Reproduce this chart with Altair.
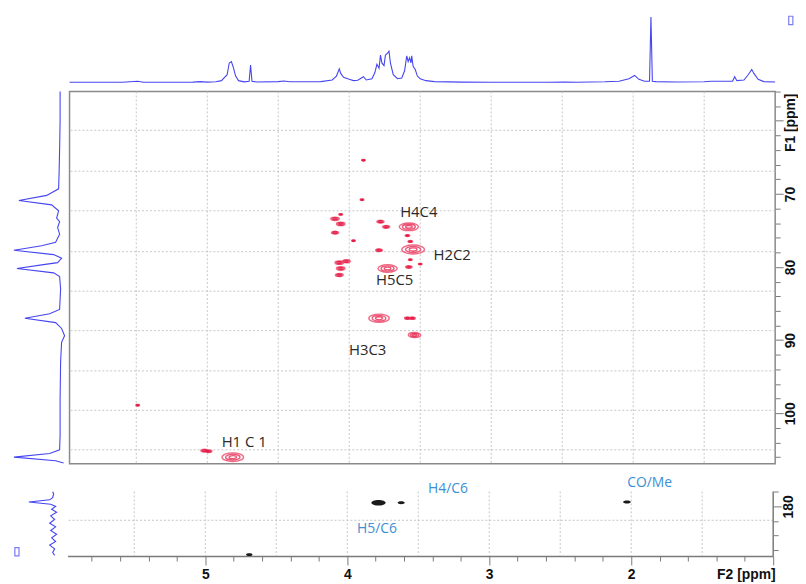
import altair as alt
import pandas as pd

# ---------------- data ----------------
F2_DOMAIN = [1.0, 5.97]          # ppm, drawn high -> low
F1_MAIN = [56.0, 106.9]          # ppm, increasing downward
F1_LOW_VIEW = [174.57, 186.79]   # strip view (upper part is the gap)
F1_LOW_AXIS = [177.96, 186.79]   # strip axis extent

# 1H trace (top projection): vertices (ppm, relative intensity)
h_ppm = [5.97, 5.60, 5.49, 5.45, 5.10, 5.05, 5.00, 4.94, 4.90, 4.86, 4.845, 4.83, 4.815, 4.80,
         4.78, 4.74, 4.705, 4.695, 4.685, 4.65, 4.50, 4.46, 4.42, 4.20, 4.12, 4.09, 4.07, 4.06,
         4.04, 4.00, 3.97, 3.94, 3.90, 3.88, 3.84, 3.82, 3.805, 3.79, 3.78, 3.77, 3.755, 3.745,
         3.73, 3.72, 3.71, 3.69, 3.66, 3.63, 3.61, 3.595, 3.585, 3.575, 3.565, 3.56, 3.55, 3.535,
         3.52, 3.50, 3.46, 3.40, 3.20, 3.00, 2.60, 2.48, 2.40, 2.20, 2.10, 2.03, 1.99, 1.96, 1.92,
         1.885, 1.875, 1.865, 1.84, 1.70, 1.50, 1.45, 1.30, 1.285, 1.27, 1.22, 1.19, 1.165, 1.15,
         1.12, 1.08, 1.00]
h_int = [0.6, 0.6, 2.0, 0.6, 0.8, 1.5, 0.8, 1.2, 3.0, 12, 30, 32, 22, 10,
         3, 1.2, 2, 27, 2, 1.0, 1.5, 2.5, 1.2, 1.5, 4, 10, 21, 14,
         8, 5, 3, 3.5, 9, 4, 6, 15, 28, 22, 42, 30, 26, 42,
         45, 48, 30, 12, 6, 7, 18, 41, 32, 38, 30, 41, 25, 20,
         10, 6, 3, 1.5, 0.8, 0.6, 0.6, 1.0, 0.6, 1.2, 2.0, 6, 11, 5, 2,
         2, 100, 2, 1.5, 1.0, 1.2, 2.0, 2, 9, 3, 4, 12, 20, 14,
         5, 1.5, 1.0]

# 13C trace (left projection of the main panel)
c_ppm = [56.0, 60, 64, 67, 69.3, 70.2, 70.9, 71.5, 72.3, 73.3, 73.8, 74.6, 75.5, 76.6, 77.1,
         77.7, 78.3, 78.8, 79.4, 79.7, 80.2, 80.8, 81.3, 83, 85.8, 86.4, 87.0, 87.6, 88.4, 89.4,
         90.3, 93, 98, 103, 105.0, 105.5, 106.0, 106.5, 106.8]
c_int = [1.5, 1.5, 2.0, 2.5, 3, 15, 43, 10, 3, 5, 2, 4, 2, 6, 20,
         48, 8, 0, 4, 20, 45, 8, 2, 1, 2, 12, 37, 6, 0, -3,
         0, 1, 1.5, 1.5, 2, 12, 48, 6, -2]

# carbonyl-region trace (left of the lower strip)
co_ppm = [178.0, 178.3, 178.8, 179.1, 179.4, 179.7, 180.0, 180.4, 180.8, 181.3, 181.8,
          182.3, 182.8, 183.3, 183.8, 184.3, 184.8, 185.3, 185.8, 186.3, 186.7]
co_int = [9, 8, 9, 12, 33, 11, 6, 10, 5, 11, 7, 12, 6, 11, 5, 10, 6, 12, 7, 9, 7]

# cross peaks of the main panel: F2 (1H), F1 (13C), relative intensity
pk_f2 = [3.90, 3.91, 4.10, 4.06, 4.10, 4.06, 3.78, 3.74, 3.58, 3.59, 3.57, 3.97, 3.79, 3.55,
         4.07, 4.02, 4.06, 4.07, 3.73, 3.58, 3.57, 3.50, 3.79, 3.59, 3.555, 3.54, 5.02, 4.99,
         4.82, 5.49]
pk_f1 = [65.4, 70.8, 73.4, 74.1, 75.3, 72.8, 73.8, 74.5, 74.5, 75.7, 76.5, 76.4, 77.7, 77.6,
         79.4, 79.2, 80.2, 81.1, 80.2, 80.0, 79.0, 79.6, 87.0, 87.0, 87.0, 89.3, 105.1, 105.2,
         106.0, 98.9]
pk_amp = [3, 3, 14, 14, 10, 3, 10, 10, 72, 4, 4, 3, 9, 100,
          14, 12, 14, 12, 72, 8, 3, 3, 81, 7, 7, 30, 10, 8,
          90, 3]

# cross peaks of the lower strip
lo_f2 = [3.78, 3.62, 2.03, 4.69]
lo_f1 = [179.5, 179.5, 179.4, 186.6]
lo_amp = [40, 10, 12, 8]

# annotations
lab_text = ["H4C4", "H2C2", "H5C5", "H3C3", "H1 C 1"]
lab_f2 = [3.51, 3.275, 3.68, 3.87, 4.74]
lab_f1 = [72.5, 78.3, 81.8, 91.3, 104.0]

lo_lab_text = ["H4/C6", "CO/Me", "H5/C6"]
lo_lab_f2 = [3.29, 1.87, 3.79]
lo_lab_f1 = [177.6, 176.8, 183.1]

# grid lines and tick values
grid_f2 = [5.5, 5.0, 4.5, 4.0, 3.5, 3.0, 2.5, 2.0, 1.5]
grid_f1_main = [61.3, 66.9, 72.3, 77.9, 83.3, 88.7, 94.2, 99.6, 105.0]
grid_f1_low = [181.9]
ticks_f2 = [5.8, 5.6, 5.4, 5.2, 5.0, 4.8, 4.6, 4.4, 4.2, 4.0, 3.8, 3.6, 3.4, 3.2, 3.0,
            2.8, 2.6, 2.4, 2.2, 2.0, 1.8, 1.6, 1.4, 1.2, 1.0]
ticks_f1_main = [56, 58, 60, 62, 64, 66, 68, 70, 72, 74, 76, 78, 80, 82, 84, 86, 88, 90,
                 92, 94, 96, 98, 100, 102, 104, 106]
ticks_f1_low = [178, 180, 182, 184, 186]

# icon anchors (TopSpin window markers)
icon_top = pd.DataFrame({"f2": [0.89], "i": [95]})
icon_low = pd.DataFrame({"v": [45], "f1": [186.2]})

# ---------------- styling ----------------
W, H_TOP, H_MAIN, H_LOW, LW = 711, 77, 375, 90, 57
BLUE = "#4646f0"
RED = "#e3123f"
PINK = "#f05a78"
GRID = "#c6c6c6"
AXC = "#7a7a7a"
ELLIPSE = "M-1,0A1,0.4,0,1,1,1,0A1,0.4,0,1,1,-1,0Z"
ICON = "M-0.5,-1L0.5,-1L0.5,1L-0.5,1Z"
LABFONT = "Liberation Sans"

xs = alt.Scale(domain=F2_DOMAIN, reverse=True, nice=False, zero=False)
ys_main = alt.Scale(domain=F1_MAIN, reverse=True, nice=False, zero=False)
ys_low = alt.Scale(domain=F1_LOW_VIEW, reverse=True, nice=False, zero=False)
proj_x = alt.Scale(domain=[-4, 53], reverse=True, nice=False, zero=False)
size_sc = alt.Scale(domain=[0, 100], range=[0, 520])
yi = alt.Scale(domain=[-7.6, 109.1], nice=False, zero=False)

df_h = pd.DataFrame({"f2": h_ppm, "i": h_int})
df_c = pd.DataFrame({"f1": c_ppm, "v": c_int})
df_co = pd.DataFrame({"f1": co_ppm, "v": co_int})
df_pk = pd.DataFrame({"f2": pk_f2, "f1": pk_f1, "amp": pk_amp})
df_lo = pd.DataFrame({"f2": lo_f2, "f1": lo_f1, "amp": lo_amp})
df_lab = pd.DataFrame({"f2": lab_f2, "f1": lab_f1, "t": lab_text})
df_lolab = pd.DataFrame({"f2": lo_lab_f2, "f1": lo_lab_f1, "t": lo_lab_text})
df_lgv = pd.DataFrame({"f2": grid_f2, "a": F1_LOW_AXIS[0], "b": F1_LOW_AXIS[1]})
df_lax = pd.DataFrame({"f2": [F2_DOMAIN[0]], "a": [F1_LOW_AXIS[0]], "b": [F1_LOW_AXIS[1]]})

noview = alt.ViewBackground(stroke="transparent")

# ---------------- row 1: 1H trace ----------------
blank = alt.Chart(pd.DataFrame({"a": [0.5]})).mark_point(opacity=0, size=1).encode(
    x=alt.X("a:Q", axis=None, scale=alt.Scale(domain=[0, 1])),
    y=alt.Y("a:Q", axis=None, scale=alt.Scale(domain=[0, 1])),
).properties(width=LW, height=H_TOP, view=noview)

top_line = alt.Chart(df_h).mark_line(color=BLUE, strokeWidth=1.1).encode(
    x=alt.X("f2:Q", scale=xs, axis=None),
    y=alt.Y("i:Q", scale=yi, axis=None),
    order=alt.Order("f2:Q"),
)
top_icon = alt.Chart(icon_top).mark_point(shape=ICON, size=70, filled=False, color=BLUE,
                                          strokeWidth=1.2).encode(
    x=alt.X("f2:Q", scale=xs, axis=None), y=alt.Y("i:Q", scale=yi, axis=None))
top = alt.layer(top_line, top_icon).properties(width=W, height=H_TOP, view=noview)

# ---------------- row 2: 13C projection + main panel ----------------
cproj = alt.Chart(df_c).mark_line(color=BLUE, strokeWidth=1.1).encode(
    x=alt.X("v:Q", scale=proj_x, axis=None),
    y=alt.Y("f1:Q", scale=ys_main, axis=None),
    order=alt.Order("f1:Q"),
).properties(width=LW, height=H_MAIN, view=noview)

yaxis_main = alt.Axis(
    orient="right", values=ticks_f1_main, domain=False, grid=False,
    tickColor=AXC, tickWidth=1,
    tickSize={"condition": {"test": "datum.value % 10 === 0", "value": 8}, "value": 5},
    labelExpr="datum.value % 10 === 0 && datum.value >= 70 ? datum.label : ''",
    labelAngle=270, labelAlign="center", labelBaseline="top", labelPadding=0,
    labelFont=LABFONT, labelFontWeight="bold", labelFontSize=14, labelColor="#111",
    title="F1 [ppm]", titleAngle=270, titleAlign="center", titleBaseline="top",
    titleX=8, titleY=31, titleFont=LABFONT, titleFontWeight="bold",
    titleFontSize=14, titleColor="#111",
)

Xm = alt.X("f2:Q", scale=xs, axis=None)
Ym = alt.Y("f1:Q", scale=ys_main, axis=yaxis_main)

gh = alt.Chart(pd.DataFrame({"f1": grid_f1_main})).mark_rule(
    color=GRID, strokeDash=[2, 2], strokeWidth=1).encode(y=Ym)
gv = alt.Chart(pd.DataFrame({"f2": grid_f2})).mark_rule(
    color=GRID, strokeDash=[2, 2], strokeWidth=1).encode(x=Xm)
outer = alt.Chart(df_pk).mark_point(shape=ELLIPSE, filled=False, color=PINK, strokeWidth=1.4,
                                    opacity=0.9).encode(
    x=Xm, y=Ym, size=alt.Size("amp:Q", scale=size_sc, legend=None))
mid = alt.Chart(df_pk).transform_calculate(a2="datum.amp * 0.45").mark_point(
    shape=ELLIPSE, filled=False, color=RED, strokeWidth=1.4).encode(
    x=Xm, y=Ym, size=alt.Size("a2:Q", scale=size_sc, legend=None))
core = alt.Chart(df_pk).transform_calculate(a3="datum.amp * 0.12").mark_point(
    shape=ELLIPSE, filled=False, color=RED, strokeWidth=1.4).encode(
    x=Xm, y=Ym, size=alt.Size("a3:Q", scale=size_sc, legend=None))
labels = alt.Chart(df_lab).mark_text(font="Open Sans", fontSize=15, color="#2a2a2a").encode(
    x=Xm, y=Ym, text="t:N")
main = alt.layer(gh, gv, outer, mid, core, labels).properties(
    width=W, height=H_MAIN,
    view=alt.ViewBackground(stroke="#8a8a8a", strokeWidth=1.5),
)

# ---------------- row 3: carbonyl strip ----------------
coline = alt.Chart(df_co).mark_line(color=BLUE, strokeWidth=1.1).encode(
    x=alt.X("v:Q", scale=proj_x, axis=None),
    y=alt.Y("f1:Q", scale=ys_low, axis=None),
    order=alt.Order("f1:Q"),
)
low_icon = alt.Chart(icon_low).mark_point(shape=ICON, size=70, filled=False, color=BLUE,
                                          strokeWidth=1.2).encode(
    x=alt.X("v:Q", scale=proj_x, axis=None), y=alt.Y("f1:Q", scale=ys_low, axis=None))
coproj = alt.layer(coline, low_icon).properties(width=LW, height=H_LOW, view=noview)

xaxis_low = alt.Axis(
    orient="bottom", values=ticks_f2, grid=False, domainColor=AXC, domainWidth=1.5,
    tickColor=AXC, tickWidth=1,
    tickSize={"condition": {"test": "abs(datum.value - round(datum.value)) < 0.01", "value": 9},
              "value": 5},
    labelExpr="abs(datum.value - round(datum.value)) < 0.01 && datum.value > 1.5 ? format(datum.value, 'd') : ''",
    labelFont=LABFONT, labelFontWeight="bold", labelFontSize=14, labelColor="#111",
    labelPadding=3,
    title="F2 [ppm]", titleX=W + 2, titleY=19, titleAlign="right", titleBaseline="middle",
    titleFont=LABFONT, titleFontWeight="bold", titleFontSize=14, titleColor="#111",
)
yaxis_low = alt.Axis(
    orient="right", values=ticks_f1_low, grid=False, domain=False,
    tickColor=AXC, tickWidth=1,
    tickSize={"condition": {"test": "datum.value === 180", "value": 8}, "value": 5},
    labelExpr="datum.value === 180 ? datum.label : ''",
    labelAngle=270, labelAlign="center", labelBaseline="top", labelPadding=0,
    labelFont=LABFONT, labelFontWeight="bold", labelFontSize=14, labelColor="#111",
    title=None,
)
Xl = alt.X("f2:Q", scale=xs, axis=xaxis_low)
Yl = alt.Y("f1:Q", scale=ys_low, axis=yaxis_low)

lgh = alt.Chart(pd.DataFrame({"f1": grid_f1_low})).mark_rule(
    color=GRID, strokeDash=[2, 2], strokeWidth=1).encode(y=Yl)
lgv = alt.Chart(df_lgv).mark_rule(color=GRID, strokeDash=[2, 2], strokeWidth=1).encode(
    x=Xl, y=alt.Y("a:Q", scale=ys_low, axis=yaxis_low), y2="b:Q")
lax = alt.Chart(df_lax).mark_rule(color=AXC, strokeWidth=1.5).encode(
    x=Xl, y=alt.Y("a:Q", scale=ys_low, axis=yaxis_low), y2="b:Q")
lpk = alt.Chart(df_lo).mark_point(shape=ELLIPSE, filled=True, color="#1a1a1a", opacity=1).encode(
    x=Xl, y=Yl,
    size=alt.Size("amp:Q", scale=alt.Scale(domain=[0, 100], range=[0, 170]), legend=None),
)
llab = alt.Chart(df_lolab).mark_text(font="Open Sans", fontSize=14, color="#3b8fd4").encode(
    x=Xl, y=Yl, text="t:N")
low = alt.layer(lgh, lgv, lax, lpk, llab).properties(width=W, height=H_LOW, view=noview)

# ---------------- assemble ----------------
row1 = alt.hconcat(blank, top, spacing=0).resolve_scale(x="independent", y="independent")
row2 = alt.hconcat(cproj, main, spacing=0).resolve_scale(x="independent", y="independent")
row3 = alt.hconcat(coproj, low, spacing=0).resolve_scale(x="independent", y="independent")
chart = alt.vconcat(row1, row2, row3, spacing=0).resolve_scale(
    x="independent", y="independent"
).properties(
    padding={"left": 0, "top": 0, "right": 0, "bottom": 0}, background="white"
).configure_view(stroke="transparent")

chart.save("out.html", embed_options={"renderer": "svg", "actions": False})
